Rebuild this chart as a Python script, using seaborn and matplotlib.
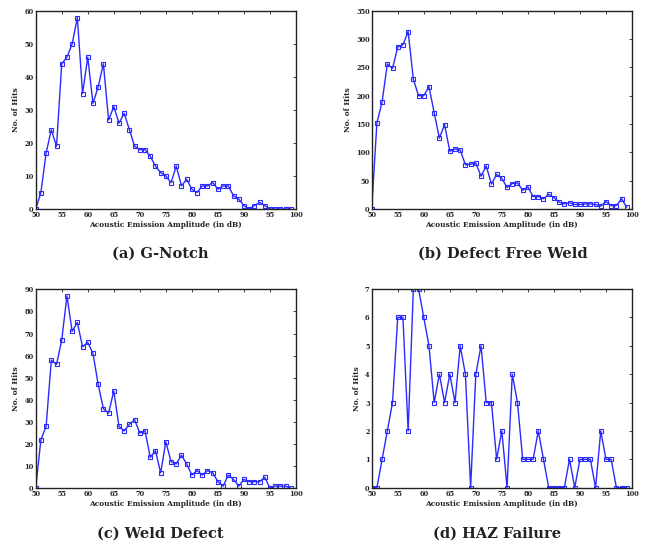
import matplotlib
matplotlib.use("Agg")
import matplotlib.pyplot as plt
import numpy as np
import pandas as pd
import seaborn as sns

# Acoustic emission amplitude bins (dB)
amplitude = list(range(50, 100))

g_notch = [0, 5, 17, 24, 19, 44, 46, 50, 58, 35,
           46, 32, 37, 44, 27, 31, 26, 29, 24, 19,
           18, 18, 16, 13, 11, 10, 8, 13, 7, 9,
           6, 5, 7, 7, 8, 6, 7, 7, 4, 3,
           1, 0, 1, 2, 1, 0, 0, 0, 0, 0]

defect_free_weld = [0, 152, 189, 256, 248, 286, 290, 313, 229, 200,
                    200, 216, 170, 125, 149, 102, 106, 104, 78, 79,
                    81, 58, 76, 44, 61, 54, 38, 45, 46, 33,
                    39, 22, 22, 18, 26, 20, 12, 9, 11, 8,
                    8, 9, 9, 8, 5, 13, 6, 6, 18, 3]

weld_defect = [0, 22, 28, 58, 56, 67, 87, 71, 75, 64,
               66, 61, 47, 36, 34, 44, 28, 26, 29, 31,
               25, 26, 14, 17, 7, 21, 12, 11, 15, 11,
               6, 8, 6, 8, 7, 3, 1, 6, 4, 1,
               4, 3, 3, 3, 5, 0, 1, 1, 1, 0]

haz_failure = [0, 0, 1, 2, 3, 6, 6, 2, 7, 7,
               6, 5, 3, 4, 3, 4, 3, 5, 4, 0,
               4, 5, 3, 3, 1, 2, 0, 4, 3, 1,
               1, 1, 2, 1, 0, 0, 0, 0, 1, 0,
               1, 1, 1, 0, 2, 1, 1, 0, 0, 0]

captions = ["(a) G-Notch", "(b) Defect Free Weld", "(c) Weld Defect", "(d) HAZ Failure"]
y_limits = [60, 350, 90, 7]
y_steps = [10, 50, 10, 1]
x_ticks = list(range(50, 101, 5))

sns.set_style("white")
plt.rcParams["font.family"] = ["DejaVu Serif"]

fig = plt.figure(figsize=(6.45, 5.46), dpi=100)

W, H = 645, 546
boxes = [  # left, top, right, bottom in pixels
    (35.7, 11.0, 296.0, 209.0),
    (371.7, 10.7, 632.0, 209.0),
    (35.7, 289.3, 296.0, 488.3),
    (371.7, 289.0, 632.0, 487.7),
]
caption_pos = [(160, 254), (503, 254), (160, 534), (497, 534)]

series = [g_notch, defect_free_weld, weld_defect, haz_failure]
blue = "#2a2aff"

for i, (vals, cap) in enumerate(zip(series, captions)):
    l, t, r, b = boxes[i]
    ax = fig.add_axes([l / W, 1 - b / H, (r - l) / W, (b - t) / H])
    df = pd.DataFrame({"Amplitude": amplitude, "Hits": vals})
    sns.lineplot(data=df, x="Amplitude", y="Hits", ax=ax, color=blue,
                 linewidth=1.0, marker="s", markersize=3.2,
                 markerfacecolor="none", markeredgecolor=blue,
                 markeredgewidth=0.8)
    ax.set_xlim(50, 100)
    ax.set_ylim(0, y_limits[i])
    ax.set_xticks(x_ticks)
    ax.set_yticks(np.arange(0, y_limits[i] + 0.001, y_steps[i]))
    ax.tick_params(direction="in", length=2.5, width=0.6, top=True, right=True,
                   labelsize=4.8, pad=1.5, colors="#222222")
    for lab in ax.get_xticklabels() + ax.get_yticklabels():
        lab.set_fontweight("bold")
    for sp in ax.spines.values():
        sp.set_visible(True)
        sp.set_color("#222222")
        sp.set_linewidth(1.0)
    ax.set_xlabel("Acoustic Emission Amplitude (in dB)", fontsize=5.3,
                  fontweight="bold", labelpad=1.5, color="#222222")
    ax.set_ylabel("No. of Hits", fontsize=5.3, fontweight="bold",
                  labelpad=3, color="#222222")
    ax.grid(False)
    cx, cy = caption_pos[i]
    fig.text(cx / W, 1 - cy / H, cap, ha="center", va="center",
             fontsize=10.5, fontweight="bold", color="#222222")

fig.savefig("out.png", dpi=100, facecolor="white")
